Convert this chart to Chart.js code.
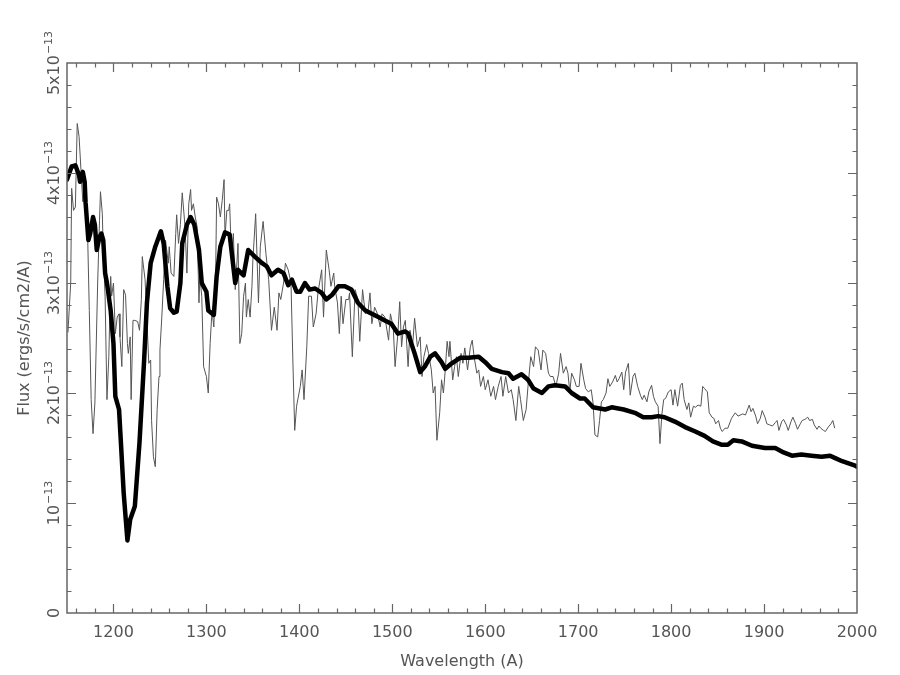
<!DOCTYPE html>
<html><head><meta charset="utf-8">
<script src="https://cdn.jsdelivr.net/npm/chart.js@4/dist/chart.umd.min.js"></script>
<style>html,body{margin:0;padding:0;background:#fff}</style>
</head><body>
<canvas id="c" width="900" height="675"></canvas>
<script>
// Wavelength in Angstrom, flux in units of 1e-13 ergs/s/cm2/A
const modelWavelength = [1150,1155,1159,1163,1164,1167,1169,1170,1173,1175,1178,1180,1182,1185,1187,1189,1191,1193,1197,1200,1202,1206,1208,1211,1215,1218,1223,1228,1233,1236,1240,1245,1251,1254,1258,1261,1265,1268,1272,1274,1279,1283,1287,1292,1295,1300,1302,1308,1311,1315,1320,1325,1331,1334,1340,1345,1352,1360,1365,1370,1377,1383,1388,1392,1397,1401,1406,1411,1417,1424,1429,1435,1442,1449,1456,1463,1471,1478,1485,1492,1499,1506,1514,1517,1524,1530,1535,1541,1546,1553,1557,1564,1573,1582,1593,1600,1607,1618,1625,1630,1639,1646,1652,1661,1668,1675,1686,1693,1702,1707,1716,1729,1736,1749,1761,1770,1779,1786,1793,1804,1815,1826,1836,1845,1854,1861,1867,1876,1887,1901,1912,1921,1930,1940,1951,1962,1971,1976,1984,1991,1998,2000];
const modelFlux = [3.94,4.06,4.07,3.98,3.92,4.01,3.92,3.73,3.39,3.45,3.60,3.53,3.30,3.42,3.45,3.39,3.09,3.00,2.75,2.45,1.97,1.85,1.55,1.09,0.66,0.85,0.97,1.55,2.30,2.82,3.18,3.33,3.47,3.36,2.97,2.77,2.73,2.74,3.00,3.36,3.53,3.60,3.53,3.30,3.00,2.92,2.75,2.71,3.06,3.33,3.46,3.44,3.00,3.12,3.07,3.30,3.24,3.18,3.15,3.07,3.12,3.09,2.98,3.03,2.92,2.92,3.00,2.94,2.95,2.91,2.85,2.89,2.97,2.97,2.94,2.82,2.75,2.72,2.69,2.66,2.63,2.54,2.56,2.54,2.36,2.19,2.24,2.33,2.36,2.28,2.22,2.27,2.32,2.32,2.33,2.28,2.22,2.19,2.18,2.13,2.17,2.12,2.04,2.00,2.06,2.07,2.06,2.00,1.95,1.95,1.87,1.85,1.87,1.85,1.82,1.78,1.78,1.79,1.78,1.74,1.69,1.65,1.61,1.56,1.53,1.53,1.57,1.56,1.52,1.50,1.50,1.46,1.43,1.44,1.43,1.42,1.43,1.41,1.38,1.36,1.34,1.33];

const obsWavelength = [1151,1154,1155,1157,1159,1161,1163,1165,1167,1169,1172,1174,1176,1178,1180,1183,1185,1186,1188,1189,1191,1193,1195,1197,1198,1200,1202,1204,1206,1207,1209,1211,1213,1215,1216,1218,1219,1221,1223,1226,1228,1230,1231,1234,1236,1238,1240,1241,1243,1245,1247,1249,1250,1252,1254,1256,1259,1260,1262,1265,1267,1268,1270,1272,1274,1277,1279,1281,1283,1284,1286,1288,1290,1292,1293,1295,1297,1300,1302,1304,1306,1308,1310,1311,1313,1315,1317,1319,1320,1322,1324,1325,1327,1329,1331,1333,1334,1336,1338,1340,1342,1343,1345,1347,1349,1350,1353,1356,1358,1361,1364,1367,1370,1373,1376,1378,1380,1383,1385,1388,1391,1393,1395,1397,1401,1403,1405,1408,1410,1413,1415,1418,1420,1424,1426,1429,1432,1434,1437,1438,1441,1443,1445,1447,1450,1453,1454,1457,1460,1463,1465,1468,1471,1474,1476,1478,1481,1484,1487,1489,1492,1496,1498,1501,1503,1506,1508,1510,1512,1514,1517,1519,1522,1524,1527,1530,1532,1534,1537,1539,1542,1544,1546,1548,1551,1553,1555,1557,1559,1561,1562,1565,1567,1569,1571,1574,1576,1578,1581,1584,1586,1588,1591,1593,1595,1598,1600,1603,1606,1609,1611,1614,1617,1619,1622,1625,1628,1630,1633,1636,1638,1641,1644,1646,1649,1652,1654,1657,1660,1662,1665,1668,1670,1673,1676,1679,1681,1684,1687,1689,1691,1693,1696,1698,1701,1703,1706,1708,1711,1714,1716,1718,1721,1723,1725,1727,1730,1732,1734,1737,1740,1742,1744,1747,1749,1751,1754,1756,1759,1761,1764,1767,1769,1771,1774,1776,1779,1781,1783,1786,1788,1790,1792,1794,1797,1800,1802,1804,1807,1810,1812,1814,1817,1819,1821,1824,1826,1829,1832,1834,1836,1839,1841,1844,1846,1848,1851,1853,1855,1858,1861,1865,1869,1872,1877,1880,1884,1886,1888,1891,1893,1896,1898,1901,1903,1906,1909,1912,1914,1916,1919,1921,1924,1926,1929,1931,1934,1936,1939,1941,1944,1947,1949,1952,1954,1957,1959,1961,1964,1966,1969,1972,1974,1976];
const obsFlux = [2.55,3.00,3.86,3.66,3.69,4.45,4.33,4.03,3.74,3.88,3.51,2.75,1.94,1.63,1.91,3.00,3.57,3.83,3.63,3.30,2.88,1.94,2.33,3.06,2.88,3.00,2.54,2.69,2.72,2.51,2.24,2.94,2.89,2.45,2.36,2.51,1.94,2.66,2.66,2.65,2.57,2.85,3.24,3.03,2.66,2.27,2.30,1.75,1.42,1.33,1.85,2.15,2.39,2.69,3.03,3.39,3.18,3.33,3.09,3.06,3.45,3.62,3.36,3.53,3.82,3.51,3.09,3.72,3.85,3.66,3.72,3.60,3.51,2.82,3.06,2.88,2.24,2.15,2.00,2.45,2.75,2.60,3.12,3.78,3.72,3.60,3.75,3.94,3.42,3.66,3.66,3.72,3.21,3.45,2.94,3.21,3.36,2.45,2.54,2.88,3.00,2.69,2.85,2.69,2.97,3.21,3.63,2.82,3.33,3.56,3.27,3.03,2.57,2.78,2.57,2.91,2.85,3.00,3.18,3.12,3.00,2.30,1.66,1.88,2.06,2.21,1.94,2.42,2.88,2.88,2.60,2.72,2.91,3.12,2.69,3.30,3.12,2.97,3.09,2.97,2.82,2.54,2.88,2.63,2.85,2.85,2.91,2.33,2.94,2.85,2.47,2.94,2.72,2.75,2.91,2.63,2.78,2.72,2.60,2.72,2.69,2.48,2.72,2.60,2.24,2.54,2.83,2.42,2.60,2.66,2.24,2.57,2.45,2.68,2.42,2.51,2.15,2.33,2.44,2.36,2.21,2.00,2.06,1.57,1.82,2.12,2.00,2.21,2.47,2.33,2.47,2.12,2.24,2.33,2.15,2.36,2.27,2.41,2.21,2.42,2.48,2.33,2.18,2.21,2.06,2.15,2.03,2.12,1.97,2.06,1.94,2.06,2.15,1.97,2.15,2.00,2.03,1.94,1.75,2.06,1.94,1.75,1.85,2.06,2.33,2.24,2.42,2.39,2.21,2.39,2.36,2.18,2.15,2.15,2.06,2.18,2.36,2.18,2.24,2.18,2.01,2.18,2.12,2.06,2.06,2.27,2.12,2.04,2.01,2.03,1.91,1.62,1.60,1.75,1.92,1.94,2.00,2.13,2.06,2.10,2.16,2.10,2.13,2.19,2.03,2.19,2.27,1.98,2.15,2.18,2.06,1.98,1.94,1.98,1.92,2.01,2.07,1.97,1.92,1.88,1.54,1.80,1.94,1.95,2.01,2.03,1.89,2.03,1.88,2.07,2.09,1.94,1.85,1.91,1.78,1.88,1.87,1.89,1.88,2.06,2.04,2.01,1.82,1.78,1.77,1.72,1.75,1.68,1.65,1.68,1.68,1.77,1.82,1.79,1.81,1.80,1.89,1.83,1.86,1.79,1.72,1.77,1.84,1.78,1.72,1.71,1.70,1.73,1.75,1.66,1.74,1.76,1.71,1.66,1.74,1.78,1.72,1.67,1.72,1.75,1.76,1.78,1.75,1.76,1.71,1.67,1.70,1.68,1.66,1.65,1.69,1.72,1.75,1.68];

const xTickValues = [1200,1300,1400,1500,1600,1700,1800,1900,2000];
const yTickValues = [0,1,2,3,4,5];
const yTickBase = ['0','10','2x10','3x10','4x10','5x10'];
const yTickExp = ['','\u221213','\u221213','\u221213','\u221213','\u221213'];

const FONT = 'DejaVu Sans';
const TXT = '#555';
const FRAME = '#666';

const framePlugin = {
  id: 'frame',
  afterDatasetsDraw(chart) {
    const {ctx, chartArea: a, scales: {x, y}} = chart;
    ctx.save();
    ctx.strokeStyle = FRAME;
    ctx.lineWidth = 1.5;
    ctx.strokeRect(a.left, a.top, a.right - a.left, a.bottom - a.top);
    ctx.lineWidth = 1.2;
    ctx.beginPath();
    // x ticks (minor every 20, major every 100)
    for (let v = 1160; v < 2000; v += 20) {
      const px = Math.round(x.getPixelForValue(v)) + 0.5;
      const len = (v % 100 === 0) ? 9 : 4.5;
      ctx.moveTo(px, a.bottom); ctx.lineTo(px, a.bottom - len);
      ctx.moveTo(px, a.top); ctx.lineTo(px, a.top + len);
    }
    // y ticks (minor every 0.2, major every 1)
    for (let i = 1; i < 25; i++) {
      const v = i * 0.2;
      const py = Math.round(y.getPixelForValue(v)) + 0.5;
      const len = (i % 5 === 0) ? 9 : 4.5;
      ctx.moveTo(a.left, py); ctx.lineTo(a.left + len, py);
      ctx.moveTo(a.right, py); ctx.lineTo(a.right - len, py);
    }
    ctx.stroke();
    // y tick labels, rotated, with superscript exponent
    ctx.fillStyle = TXT;
    yTickValues.forEach((v, i) => {
      const py = y.getPixelForValue(v);
      ctx.save();
      ctx.translate(59, py);
      ctx.rotate(-Math.PI / 2);
      ctx.font = '16px "' + FONT + '"';
      const wb = ctx.measureText(yTickBase[i]).width;
      ctx.font = '11px "' + FONT + '"';
      const we = yTickExp[i] ? ctx.measureText(yTickExp[i]).width + 1 : 0;
      const start = -(wb + we) / 2;
      ctx.textBaseline = 'alphabetic';
      ctx.textAlign = 'left';
      ctx.font = '16px "' + FONT + '"';
      ctx.fillText(yTickBase[i], start, 0);
      if (yTickExp[i]) {
        ctx.font = '11px "' + FONT + '"';
        ctx.fillText(yTickExp[i], start + wb + 1, -7);
      }
      ctx.restore();
    });
    ctx.restore();
  }
};

new Chart(document.getElementById('c'), {
  type: 'line',
  data: {
    datasets: [
      {
        label: 'Model',
        data: modelWavelength.map((w, i) => ({x: w, y: modelFlux[i]})),
        borderColor: '#000',
        borderWidth: 4.5,
        pointRadius: 0,
        tension: 0,
        fill: false,
        borderJoinStyle: 'round',
        borderCapStyle: 'round',
        order: 0
      },
      {
        label: 'Observed',
        data: obsWavelength.map((w, i) => ({x: w, y: obsFlux[i]})),
        borderColor: '#555',
        borderWidth: 1,
        pointRadius: 0,
        tension: 0,
        fill: false,
        order: 1
      }
    ]
  },
  options: {
    responsive: false,
    animation: false,
    events: [],
    layout: {padding: {top: 63, right: 43, left: 0, bottom: 0}},
    plugins: {legend: {display: false}, tooltip: {enabled: false}},
    scales: {
      x: {
        type: 'linear', min: 1150, max: 2000,
        afterBuildTicks: s => { s.ticks = xTickValues.map(v => ({value: v})); },
        afterFit: s => { s.height = 62; },
        grid: {display: false, drawTicks: false, tickLength: 0},
        border: {display: false},
        ticks: {padding: 10, color: TXT, font: {family: FONT, size: 16}, maxRotation: 0, minRotation: 0, autoSkip: false, callback: v => String(v)},
        title: {display: true, text: 'Wavelength (A)', color: TXT, font: {family: FONT, size: 16}, padding: {top: 0, bottom: 4}}
      },
      y: {
        type: 'linear', min: 0, max: 5,
        afterFit: s => { s.width = 67; },
        grid: {display: false, drawTicks: false, tickLength: 0},
        border: {display: false},
        ticks: {display: false},
        title: {display: true, text: 'Flux (ergs/s/cm2/A)', color: TXT, font: {family: FONT, size: 16}, padding: {top: 15, bottom: 0}}
      }
    }
  },
  plugins: [framePlugin]
});
</script>
</body></html>
